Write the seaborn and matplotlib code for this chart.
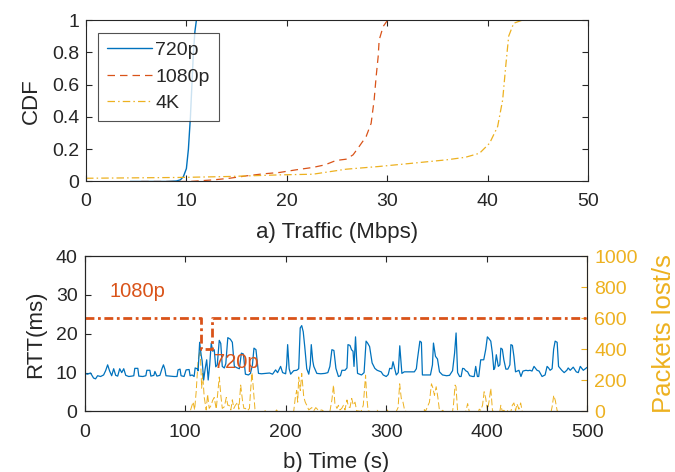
import numpy as np
import pandas as pd
import matplotlib
matplotlib.use("Agg")
import matplotlib.pyplot as plt
import seaborn as sns

# ---- a) traffic CDFs (Mbps, cumulative fraction) ----
cdf_720_x = [4.4, 8.0, 9.0, 9.4, 9.7, 10.0, 10.2, 10.4, 10.55, 10.7, 10.85, 11.0]
cdf_720_y = [0.0, 0.0, 0.003, 0.01, 0.03, 0.08, 0.2, 0.4, 0.6, 0.8, 0.93, 1.0]

cdf_1080_x = [5.5, 10.3, 12.7, 14.3, 16.0, 17.6, 19.3, 20.9, 22.6, 23.8, 24.9, 25.9,
              26.6, 27.2, 27.9, 28.4, 28.7, 28.9, 29.1, 29.2, 29.6, 30.05]
cdf_1080_y = [0.0, 0.0, 0.01, 0.02, 0.035, 0.047, 0.056, 0.072, 0.087, 0.103, 0.13, 0.138,
              0.165, 0.216, 0.278, 0.36, 0.505, 0.65, 0.773, 0.876, 0.96, 1.0]

cdf_4k_x = [0.0, 9.4, 14.3, 19.3, 22.6, 25.9, 29.2, 32.5, 35.9, 37.8, 39.2, 40.2,
            41.0, 41.5, 41.8, 42.1, 42.6, 43.5]
cdf_4k_y = [0.02, 0.025, 0.031, 0.041, 0.045, 0.076, 0.093, 0.113, 0.134, 0.15, 0.175, 0.237,
            0.34, 0.505, 0.71, 0.9, 0.98, 1.0]

cdf_ticks = [0, 0.2, 0.4, 0.6, 0.8, 1.0]
cdf_tick_labels = ["0", "0.2", "0.4", "0.6", "0.8", "1"]

# ---- b) RTT over time (s, ms) ----
rtt_t = [0, 3, 6, 9, 11, 13, 16, 19, 21, 23, 25, 27, 29, 31, 33, 35, 37, 39, 41, 44, 47, 49,
         50, 53, 54, 58, 61, 62, 65, 66, 69, 70, 72, 75, 77, 78.5, 80, 81, 85, 89, 92, 93, 95,
         96, 99, 101, 104, 105, 107, 109, 110, 112, 113, 114.5, 116, 117, 118.5, 120, 121.5,
         123, 124.5, 126, 127.5, 129, 130.5, 132, 134, 135.5, 137, 139, 140.5, 142.5, 145,
         147, 149, 152, 154, 156, 158, 160, 163, 165, 167, 168.5, 170.5, 173, 176, 180, 184,
         187, 190, 192, 195, 197, 200, 201, 202, 203.5, 205, 208, 211, 213, 214.5, 216, 217.5,
         219, 221, 223, 224.5, 225.5, 227, 228, 231, 235, 239, 242, 244, 246, 248, 250, 252.5,
         254.5, 256, 259, 261, 262, 264, 265.5, 267, 268, 269.5, 270.5, 271.5, 275.5, 278, 279,
         280, 281.5, 283.5, 286, 288.7, 291, 295, 297, 300, 302, 303.5, 305.5, 306.8, 308, 310,
         312, 313.5, 315.6, 318, 321, 325, 328, 330, 331, 333.5, 335, 336, 339, 341, 344, 346,
         347, 349, 351, 353, 356, 360, 363, 366, 368, 369.5, 371, 373, 374.5, 376, 377.5, 379,
         381, 383, 386, 387.5, 389, 390.7, 392, 394, 397, 399, 400.6, 402, 404, 405.6, 407, 408,
         409.5, 411.5, 413, 414, 415.5, 417, 419, 421, 423, 424, 425.5, 427, 428.6, 432, 434,
         436, 439, 441, 443, 445, 447, 450, 452, 455, 458, 460, 461.5, 463, 465, 466.5, 468,
         470, 471.4, 474.6, 477, 479.6, 481, 483, 486, 489, 491, 493, 496, 498, 500]
rtt_ms = [9.8, 9.6, 9.9, 8.6, 8.4, 9.2, 9.0, 9.4, 10.5, 12.0, 10.4, 9.2, 11.0, 9.3, 9.1, 11.0,
          10.0, 11.0, 9.3, 9.0, 9.1, 9.2, 11.1, 11.1, 9.1, 9.0, 9.2, 10.6, 10.6, 9.1, 9.3, 10.3,
          9.1, 9.3, 11.0, 12.0, 10.8, 9.2, 9.1, 9.0, 9.0, 10.7, 10.9, 9.2, 9.0, 10.7, 10.8, 9.2,
          9.4, 9.0, 11.2, 11.0, 10.5, 17.8, 14.5, 13.0, 8.1, 11.0, 13.3, 8.1, 12.0, 17.6, 15.5,
          15.9, 11.5, 12.0, 18.3, 17.5, 11.6, 11.2, 12.3, 19.0, 18.6, 17.8, 11.6, 11.2, 11.0,
          15.0, 14.8, 9.6, 9.4, 9.8, 12.0, 16.3, 15.9, 9.8, 9.7, 9.8, 9.9, 9.6, 10.7, 10.0,
          11.6, 10.0, 9.7, 12.0, 17.2, 11.0, 9.6, 10.5, 10.6, 11.0, 21.5, 22.1, 20.5, 16.7,
          11.0, 9.6, 12.0, 17.2, 13.0, 11.6, 9.8, 9.7, 9.8, 10.0, 11.6, 15.9, 15.7, 11.1, 9.0,
          9.2, 10.6, 10.6, 11.2, 17.2, 17.0, 15.9, 15.5, 11.6, 19.2, 14.0, 9.8, 9.4, 10.0, 14.0,
          18.1, 17.6, 16.7, 12.5, 11.1, 10.6, 10.2, 9.4, 9.0, 9.5, 11.1, 11.0, 12.8, 11.5, 9.4,
          10.0, 16.9, 9.8, 10.2, 10.2, 10.2, 10.2, 11.0, 13.3, 18.1, 17.8, 9.4, 9.4, 9.4, 9.4,
          12.0, 17.6, 14.2, 13.5, 10.2, 9.4, 9.2, 9.3, 10.5, 15.0, 20.2, 10.0, 9.0, 9.0, 11.1,
          11.0, 10.5, 10.2, 9.2, 9.0, 9.0, 11.6, 9.0, 9.0, 13.3, 13.3, 16.0, 19.2, 18.8, 18.1,
          15.0, 10.8, 11.2, 14.6, 11.6, 12.0, 16.3, 16.0, 13.3, 10.9, 10.9, 12.0, 17.2, 17.0,
          14.2, 10.2, 10.6, 9.0, 10.4, 10.6, 10.5, 10.6, 10.4, 11.6, 10.6, 10.4, 9.0, 9.4, 11.6,
          11.2, 10.6, 11.0, 16.0, 18.1, 17.8, 11.6, 10.6, 10.0, 10.6, 11.2, 10.6, 11.4, 10.2,
          10.0, 11.6, 10.6, 11.0, 11.4]

# resolution switch (drawn on the RTT scale): 1080p -> 720p -> 1080p
res_t = [0, 116, 116, 127, 127, 500]
res_level = [24, 24, 16, 16, 24, 24]

# packets lost per second
loss_t = [0, 105, 106.5, 108, 109.5, 111, 113, 115, 116.5, 117.5, 119, 121, 122.4, 124, 126,
          127.3, 129, 131, 134, 135.6, 137, 139, 141, 142.5, 143.8, 145.5, 147, 148.5, 150,
          152.5, 153.5, 155.3, 157, 158.5, 160, 162, 164, 165, 166.5, 167.5, 169.5, 171, 178,
          179, 180, 190, 191, 192, 208, 209.7, 211, 212, 213, 214.6, 216, 218, 219.5, 221, 223,
          226, 228, 230, 233, 236, 238, 244, 246, 247.6, 249, 251, 252.5, 254, 255.8, 257.5,
          259, 261, 262.5, 264, 265.7, 267.3, 269, 270.6, 275, 275.6, 277.2, 278.9, 279.5,
          280.5, 282, 284, 290, 291, 292, 300, 301, 302, 310, 311.8, 313.4, 315, 316.7, 318.4,
          320, 337, 338, 339, 343, 345, 346.5, 348, 349.7, 351.3, 353, 355, 356.3, 357, 366,
          367, 368.5, 369.4, 371, 372, 379, 379.5, 381, 382.6, 392, 392.5, 394, 395.8, 397.4,
          399, 400.7, 402.4, 404, 405.7, 407, 413, 414, 415.5, 417, 418, 420.5, 421, 424,
          425.4, 427, 428.7, 430, 432, 433.7, 435.3, 464, 465, 466.6, 468.2, 470, 471, 500]
loss_ps = [0, 0, 30, 62, 10, 124, 330, 400, 150, 245, 94, 10, 110, 20, 40, 70, 90, 15, 222,
           100, 20, 30, 90, 40, 40, 10, 75, 20, 40, 60, 15, 170, 75, 20, 20, 5, 20, 120, 250,
           180, 15, 0, 0, 12, 0, 0, 10, 0, 0, 94, 135, 60, 222, 135, 245, 94, 60, 40, 10, 25, 5,
           25, 5, 10, 0, 0, 74, 170, 50, 20, 40, 10, 20, 40, 10, 74, 30, 25, 84, 40, 60, 5, 0,
           10, 40, 178, 234, 105, 5, 0, 0, 8, 0, 0, 10, 0, 0, 25, 178, 84, 60, 5, 0, 0, 12, 0,
           60, 178, 150, 104, 159, 94, 5, 0, 8, 0, 0, 50, 170, 160, 5, 0, 0, 10, 51, 0, 0, 15, 8,
           40, 127, 84, 5, 70, 149, 5, 0, 0, 40, 0, 8, 0, 8, 0, 0, 40, 55, 5, 50, 15, 55, 0, 0,
           30, 104, 70, 5, 0, 0]

time_ticks = [0, 100, 200, 300, 400, 500]
rtt_ticks = [0, 10, 20, 30, 40]
loss_ticks = [0, 200, 400, 600, 800, 1000]

BLUE, RED, YELLOW = "#0072BD", "#D95319", "#EDB120"
INK = "#262626"

sns.set_style("ticks")
plt.rcParams["font.family"] = ["Liberation Sans", "DejaVu Sans"]
plt.rcParams.update({
    "axes.edgecolor": INK, "axes.linewidth": 0.8,
    "xtick.color": INK, "ytick.color": INK,
    "xtick.labelsize": 14, "ytick.labelsize": 14,
    "xtick.direction": "in", "ytick.direction": "in",
    "xtick.major.size": 4.5, "ytick.major.size": 4.5,
    "xtick.major.width": 0.8, "ytick.major.width": 0.8,
    "axes.labelcolor": INK,
})

fig = plt.figure(figsize=(6.75, 4.72), dpi=100)
ax1 = fig.add_axes([0.1274, 0.6155, 0.7437, 0.3421])
ax2 = fig.add_axes([0.1252, 0.1282, 0.7449, 0.3294])

# ---- top panel ----
sns.lineplot(x=cdf_720_x, y=cdf_720_y, ax=ax1, color=BLUE, lw=1.0, label="720p",
             estimator=None, sort=False)
sns.lineplot(x=cdf_1080_x, y=cdf_1080_y, ax=ax1, color=RED, lw=0.9, label="1080p",
             estimator=None, sort=False, linestyle=(0, (6, 4)))
sns.lineplot(x=cdf_4k_x, y=cdf_4k_y, ax=ax1, color=YELLOW, lw=0.9, label="4K",
             estimator=None, sort=False, linestyle=(0, (6, 2.5, 1.2, 2.5)))
ax1.set_xlim(0, 50)
ax1.set_ylim(0, 1)
ax1.set_xticks([0, 10, 20, 30, 40, 50])
ax1.set_yticks(cdf_ticks, cdf_tick_labels)
ax1.tick_params(top=True, right=True, pad=5)
ax1.tick_params(axis="x", pad=8)
ax1.set_xlabel("a) Traffic (Mbps)", fontsize=16, labelpad=9)
ax1.set_ylabel("CDF", fontsize=16, labelpad=7)
leg = ax1.legend(loc="upper left", bbox_to_anchor=(0.024, 0.92), borderaxespad=0,
                 fontsize=14, frameon=True, fancybox=False, handlelength=2.3,
                 handletextpad=0.2, labelspacing=0.45, borderpad=0.45)
leg.get_frame().set_edgecolor(INK)
leg.get_frame().set_linewidth(0.8)

# ---- bottom panel ----
ax3 = ax2.twinx()
sns.lineplot(x=loss_t, y=loss_ps, ax=ax3, color=YELLOW, lw=0.7, estimator=None,
             sort=False, linestyle=(0, (7, 3)))
sns.lineplot(x=rtt_t, y=rtt_ms, ax=ax2, color=BLUE, lw=0.9, estimator=None, sort=False)
sns.lineplot(x=res_t, y=res_level, ax=ax2, color=RED, lw=2.0, estimator=None, sort=False,
             linestyle=(0, (3.2, 1.3, 1.0, 1.3)))
ax2.set_zorder(ax3.get_zorder() + 1)
ax2.patch.set_visible(False)

ax2.set_xlim(0, 500)
ax2.set_ylim(0, 40)
ax2.set_xticks(time_ticks)
ax2.set_yticks(rtt_ticks)
ax2.tick_params(top=True, pad=5)
ax2.tick_params(axis="x", pad=9)
ax2.set_xlabel("b) Time (s)", fontsize=16, labelpad=8)
ax2.set_ylabel("RTT(ms)", fontsize=16, labelpad=7)

ax3.set_ylim(0, 1000)
ax3.set_yticks(loss_ticks)
ax3.tick_params(axis="y", colors=YELLOW, direction="in", pad=5)
ax3.spines["right"].set_color(YELLOW)
ax3.set_ylabel("Packets lost/s", fontsize=18.5, color=YELLOW, labelpad=10)

ax2.text(25, 30.8, "1080p", color=RED, fontsize=14.5, va="center", ha="left")
ax2.text(129, 12.6, "720p", color=RED, fontsize=14.5, va="center", ha="left")

fig.savefig("out.png", dpi=100)
